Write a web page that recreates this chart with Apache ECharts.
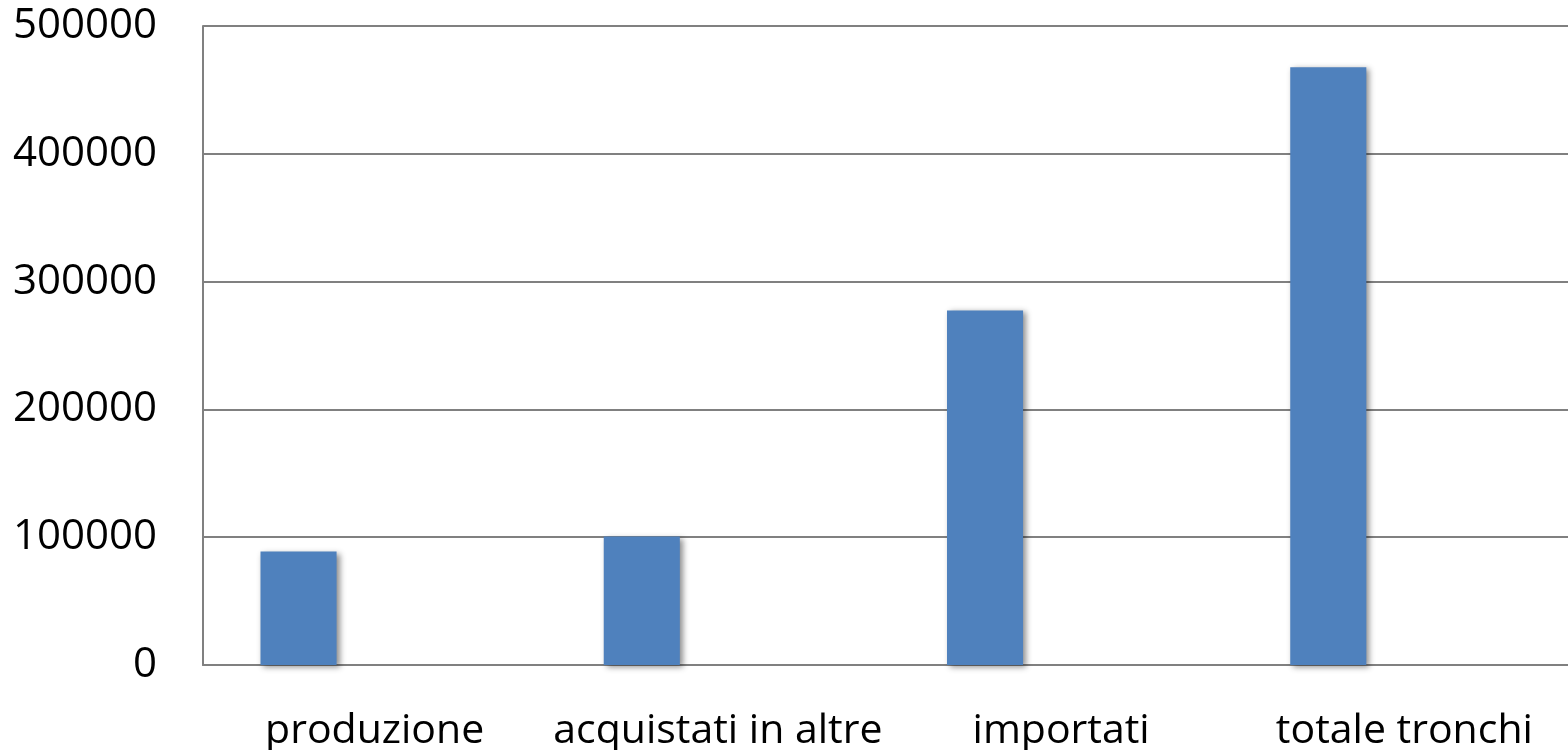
<!DOCTYPE html>
<html>
<head>
<meta charset="utf-8">
<script src="https://cdn.jsdelivr.net/npm/echarts@6/dist/echarts.min.js"></script>
<style>
html,body{margin:0;padding:0;background:#fff;overflow:hidden;}
#chart{width:1568px;height:750px;}
</style>
</head>
<body>
<div id="chart"></div>
<script>
const categories = ['produzione', 'acquistati in altre', 'importati', 'totale tronchi'];
const values = [88800, 100500, 277400, 467800];
const yTicks = [0, 100000, 200000, 300000, 400000, 500000];

const chart = echarts.init(document.getElementById('chart'));
const barStyle = {
  color: '#4F81BD',
  shadowColor: 'rgba(0,0,0,0.45)',
  shadowBlur: 6,
  shadowOffsetX: 3,
  shadowOffsetY: 2
};
chart.setOption({
  animation: false,
  grid: { left: 203, width: 1373, top: 26, bottom: 85, containLabel: false, outerBoundsMode: 'none' },
  xAxis: {
    type: 'category',
    data: categories,
    axisLine: { show: true, lineStyle: { color: '#808080', width: 2 } },
    axisTick: { show: false },
    axisLabel: { color: '#000', fontFamily: 'Open Sans', fontSize: 41, margin: 46, interval: 0 }
  },
  yAxis: {
    type: 'value',
    min: yTicks[0],
    max: yTicks[yTicks.length - 1],
    interval: 100000,
    axisLine: { show: true, lineStyle: { color: '#808080', width: 2 } },
    axisTick: { show: false },
    splitLine: { show: true, lineStyle: { color: '#808080', width: 2 } },
    axisLabel: { color: '#000', fontFamily: 'Open Sans', fontSize: 42, margin: 46, formatter: v => String(v) }
  },
  series: [
    { type: 'bar', data: values, barGap: '0%', barCategoryGap: '33.5%', itemStyle: barStyle },
    { type: 'bar', data: [], itemStyle: barStyle },
    { type: 'bar', data: [], itemStyle: barStyle }
  ]
});
</script>
</body>
</html>
